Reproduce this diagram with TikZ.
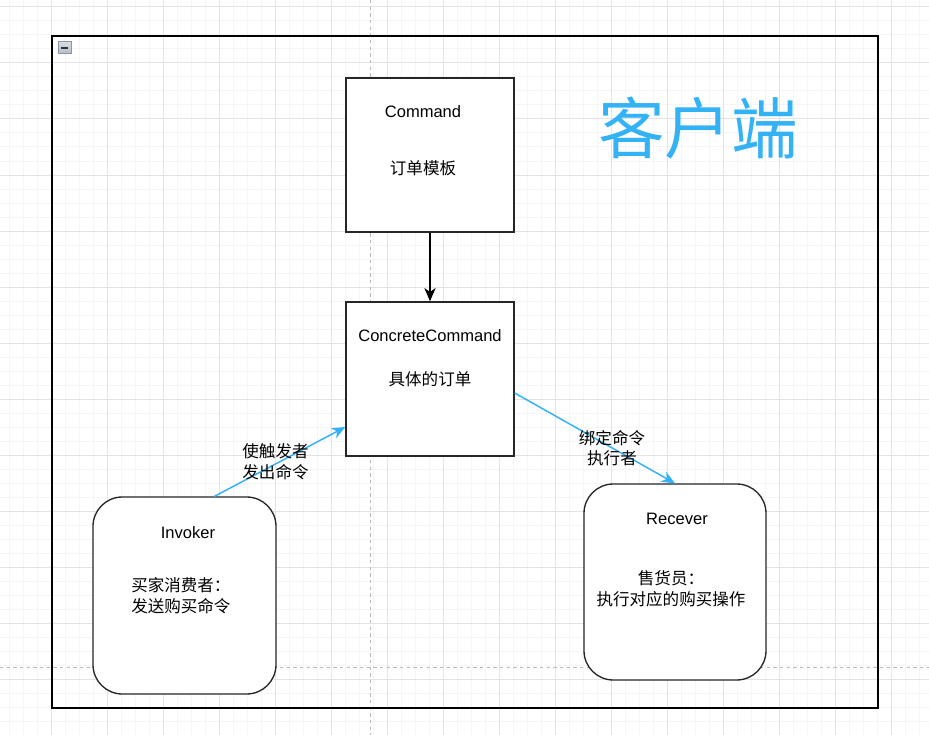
\documentclass[tikz,border=0pt]{standalone}
\usepackage{fontspec}
\setmainfont{Liberation Sans}
\newfontfamily\cjk{Noto Sans CJK SC}
\usetikzlibrary{arrows.meta}
\definecolor{blu}{HTML}{33B2F5}
\definecolor{minorg}{HTML}{F5F5F5}
\definecolor{majorg}{HTML}{E3E3E3}
\definecolor{pageg}{HTML}{B8B8B8}
\definecolor{iconfill}{HTML}{B4BAC4}
\definecolor{iconedge}{HTML}{8C95A6}
\tikzset{
  minorgrid/.style={draw=minorg, line width=0.75pt},
  majorgrid/.style={draw=majorg, line width=0.75pt},
  pagebreak/.style={draw=pageg, line width=0.75pt, dash pattern=on 2.5pt off 2.5pt},
  sqbox/.style={draw=black!85, fill=white, line width=1pt, minimum width=126pt, minimum height=115.5pt, inner sep=0pt},
  rbox/.style={draw=black!85, fill=white, line width=1pt, rounded corners=22pt, inner sep=0pt},
  txt/.style={font=\fontsize{12.4}{15.5}\selectfont, inner sep=0pt},
  ctxt/.style={font=\cjk\fontsize{12.4}{15.5}\selectfont, inner sep=0pt},
  blk/.style={draw=black, line width=1pt, -{Stealth[length=10pt,width=8.5pt,inset=3pt]}},
  blue/.style={draw=blu, line width=1.1pt, -{Stealth[length=10pt,width=8.5pt,inset=3pt]}},
}
\begin{document}
\begin{tikzpicture}[x=0.75pt,y=-0.75pt]
\useasboundingbox (0,0) rectangle (929,735);
\fill[white] (0,0) rectangle (929,735);
% grid
\foreach \x in {9.5,23.5,...,929} \draw[minorgrid] (\x,0) -- (\x,735);
\foreach \y in {7,21,...,735} \draw[minorgrid] (0,\y) -- (929,\y);
\foreach \x in {51.5,107.5,...,929} \draw[majorgrid] (\x,0) -- (\x,735);
\foreach \y in {7,63,...,735} \draw[majorgrid] (0,\y) -- (929,\y);
% page breaks
\draw[pagebreak] (370,0) -- (370,735);
\draw[pagebreak] (0,667) -- (929,667);
% container
\draw[black, line width=1pt] (52,36) rectangle (878,708);
\draw[black, line width=1.6pt] (52,36) -- (112,36);
% collapse icon
\draw[draw=iconedge, top color=iconfill!50, bottom color=iconfill, line width=0.75pt] (58,42) rectangle (71,54);
\draw[black!80, line width=1pt] (61,48) -- (68,48);
% boxes
\node[sqbox] (cmd) at (430,155) {};
\node[sqbox] (cc) at (430,379) {};
\node[rbox, minimum width=137.25pt, minimum height=147.75pt] (inv) at (184.5,595.5) {};
\node[rbox, minimum width=136.5pt, minimum height=147pt] (rec) at (675,582) {};
% connectors
\draw[blk] (cmd.south) -- (cc.north);
\draw[blue] ([xshift=22.5pt]inv.north) -- ([yshift=-36pt]cc.west);
\draw[blue] ([yshift=-10.5pt]cc.east) -- (rec.north);
% texts
\node[txt] (t1) at (423,112) {Command};
\node[ctxt] (t2) at (423,168) {订单模板};
\node[txt] (t3) at (430,336) {ConcreteCommand};
\node[ctxt] (t4) at (430,379) {具体的订单};
\node[txt] (t5) at (188,533) {Invoker};
\node[ctxt, align=left, anchor=west] (t6) at (131,595.5) {买家消费者：\\发送购买命令};
\node[txt] (t7) at (677,519) {Recever};
\node[ctxt, align=center] (t8) at (671,589) {售货员：\\执行对应的购买操作};
\node[ctxt, align=center] (l1) at (275.5,462) {使触发者\\发出命令};
\node[ctxt, align=center] (l2) at (612,448) {绑定命令\\执行者};
\node[font=\cjk\fontsize{50}{60}\selectfont, text=blu, inner sep=0pt] (title) at (698,128) {客户端};
\end{tikzpicture}
\end{document}
